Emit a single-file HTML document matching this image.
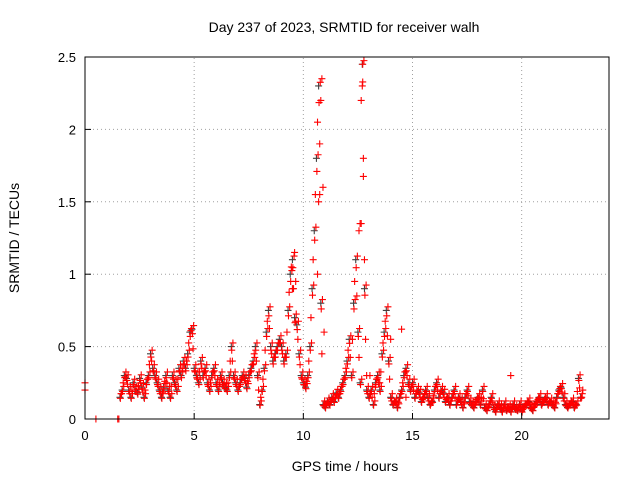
<!DOCTYPE html>
<html><head><meta charset="utf-8"><style>
body{margin:0;background:#fff}
svg{display:block;font-family:"Liberation Sans",sans-serif}
</style></head><body>
<svg id="chart" width="640" height="480" viewBox="0 0 640 480">
<rect width="640" height="480" fill="#fff"/>
<g id="grid"></g>
<g id="marks"></g>
<rect x="85" y="57" width="524" height="362" fill="none" stroke="#000" stroke-width="1"/>
<g id="ticks"></g>
<text x="344" y="32" font-size="14" text-anchor="middle">Day 237 of 2023, SRMTID for receiver walh</text>
<text x="345" y="471" font-size="14" text-anchor="middle">GPS time / hours</text>
<text x="0" y="0" font-size="14" text-anchor="middle" transform="translate(19,238) rotate(-90)">SRMTID / TECUs</text>
</svg>
<script>
const xTicks=[0,5,10,15,20];
const yTicks=[0,0.5,1,1.5,2,2.5];
const yTickLabels=["0","0.5","1","1.5","2","2.5"];
const startTime=1.6;
const step=0.1;
const values=[0.15,0.2,0.3,0.28,
0.2,0.15,0.25,0.2,0.18,0.28,0.22,0.15,0.25,0.3,
0.45,0.35,0.3,0.25,0.2,0.15,0.22,0.3,0.2,0.15,
0.3,0.25,0.2,0.35,0.3,0.4,0.35,0.45,0.6,0.62,
0.35,0.3,0.25,0.4,0.3,0.35,0.25,0.2,0.3,0.35,
0.25,0.2,0.3,0.25,0.22,0.2,0.3,0.5,0.3,0.25,
0.2,0.25,0.3,0.28,0.22,0.3,0.35,0.4,0.5,0.3,
0.1,0.2,0.35,0.6,0.75,0.5,0.4,0.45,0.5,0.55,
0.5,0.4,0.45,0.75,1.0,1.1,0.7,0.65,0.45,0.3,
0.25,0.22,0.3,0.5,0.9,1.3,1.8,2.3,0.8,0.1,
0.08,0.12,0.1,0.15,0.12,0.18,0.15,0.2,0.25,0.3,
0.4,0.55,0.3,0.8,1.1,0.6,0.25,2.45,0.9,0.2,
0.15,0.2,0.1,0.25,0.3,0.2,0.45,0.6,0.75,0.4,
0.15,0.1,0.12,0.08,0.15,0.2,0.3,0.35,0.25,0.2,
0.25,0.15,0.2,0.18,0.12,0.15,0.2,0.15,0.1,0.12,
0.2,0.25,0.15,0.2,0.18,0.12,0.15,0.1,0.15,0.2,
0.1,0.15,0.12,0.08,0.15,0.2,0.12,0.1,0.08,0.12,
0.15,0.1,0.2,0.08,0.06,0.1,0.15,0.08,0.05,0.1,
0.08,0.05,0.1,0.06,0.08,0.05,0.1,0.07,0.06,0.1,
0.05,0.08,0.1,0.12,0.08,0.06,0.1,0.12,0.15,0.1,
0.12,0.15,0.1,0.12,0.1,0.08,0.15,0.2,0.22,0.15,
0.1,0.08,0.1,0.12,0.08,0.1,0.28,0.15];
const extraTimes=[0,0,0.5,1.5,1.55,9.5,9.6,9.65,10.65,10.7,10.75,10.8,10.85,10.9,10.95,12.55,12.6,12.65,12.7,12.72,12.75,12.8,12.9,13.05,13.3,13.5,14.0,14.5,14.7,19.5,22.8];
const extraValues=[0.25,0.2,0,0,0,0.9,1.15,0.95,1.0,1.5,1.9,2.2,2.35,1.6,0.6,1.3,1.35,2.2,2.3,2.45,1.8,1.1,0.3,0.3,0.22,0.25,0.55,0.62,0.15,0.3,0.2];
const ns="http://www.w3.org/2000/svg";
const X0=85,X1=609,Y0=419,Y1=57,XMAX=24,YMAX=2.5;
function xs(t){return X0+(X1-X0)*t/XMAX;}
function ys(v){return Y0-(Y0-Y1)*v/YMAX;}
const grid=document.getElementById('grid'),ticks=document.getElementById('ticks'),marks=document.getElementById('marks');
function mk(tag,attrs,parent){const e=document.createElementNS(ns,tag);for(const k in attrs)e.setAttribute(k,attrs[k]);parent.appendChild(e);return e;}
xTicks.forEach(t=>{
  const x=xs(t);
  if(t>0){const g=mk('line',{x1:x,x2:x,y1:Y0,y2:Y1,stroke:'#a0a0a0','stroke-dasharray':'1,3'},grid);
  
  }
  const l=mk('line',{x1:x,x2:x,y1:Y0,y2:Y0-6,stroke:'#000'},ticks);
  
  
  const tx=mk('text',{x:x,y:Y0+21,'font-size':13,'text-anchor':'middle'},ticks);tx.textContent=t;
  
  
});
yTicks.forEach((v,i)=>{
  const y=ys(v);
  if(v>0&&v<YMAX){const g=mk('line',{x1:X0,x2:X1,y1:y,y2:y,stroke:'#a0a0a0','stroke-dasharray':'1,3'},grid);
  
  }
  const l=mk('line',{x1:X0,x2:X0+6,y1:y,y2:y,stroke:'#000'},ticks);
  
  
  const tx=mk('text',{x:X0-9,y:y+5,'font-size':13,'text-anchor':'end'},ticks);tx.textContent=yTickLabels[i];
  
  
});
function plus(t,v,color){
  const x=xs(t),y=ys(v);
  const p=mk('path',{d:`M${x-3.5},${y}H${x+3.5}M${x},${y-3.5}V${y+3.5}`,stroke:color,'stroke-width':1.1,fill:'none'},marks);
  
  
}
values.forEach((v,i)=>{const t=startTime+i*step;plus(t,v,'#404040');});
values.forEach((v,i)=>{
  const t=startTime+i*step;
  const nxt=i+1<values.length?values[i+1]:v;
  plus(t+0.02,v*0.95,'#ff0000');
  plus(t+0.05,(v+nxt)/2,'#ff0000');
  plus(t+0.075,v+0.025,'#ff0000');
});
extraTimes.forEach((t,i)=>{plus(t,extraValues[i],'#ff0000');});
</script>
</body></html>
